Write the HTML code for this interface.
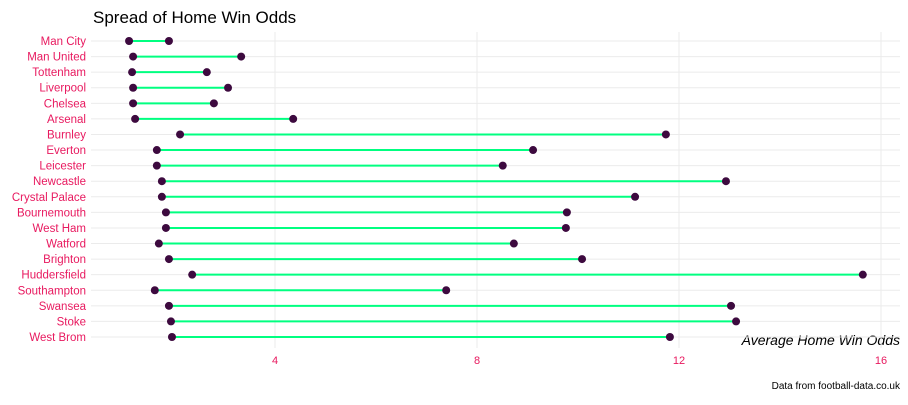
<!DOCTYPE html>
<html><head><meta charset="utf-8"><style>
body{margin:0;background:#fff;font-family:"Liberation Sans",sans-serif;}
</style></head><body>
<svg id="c" width="908" height="400">
<text x="93" y="23" font-size="17" fill="#000">Spread of Home Win Odds</text>
<text x="900" y="345" font-size="14" font-style="italic" text-anchor="end" fill="#000">Average Home Win Odds</text>
<text x="900" y="389" font-size="10" text-anchor="end" fill="#000">Data from football-data.co.uk</text>
<g id="g"></g>
</svg>
<script>
const teams=["Man City","Man United","Tottenham","Liverpool","Chelsea","Arsenal","Burnley","Everton","Leicester","Newcastle","Crystal Palace","Bournemouth","West Ham","Watford","Brighton","Huddersfield","Southampton","Swansea","Stoke","West Brom"];
const minOdds=[1.11,1.19,1.17,1.19,1.19,1.23,2.12,1.66,1.66,1.76,1.76,1.84,1.84,1.70,1.90,2.36,1.62,1.90,1.94,1.96];
const maxOdds=[1.90,3.33,2.65,3.07,2.79,4.36,11.74,9.11,8.51,12.93,11.13,9.78,9.76,8.73,10.08,15.64,7.39,13.03,13.13,11.82];
const ticks=[4,8,12,16];
const NS="http://www.w3.org/2000/svg";
const g=document.getElementById('g');
const x=v=>73+v*50.5;
const y=i=>41+i*(296/19);
function mk(t,a){const e=document.createElementNS(NS,t);for(const k in a)e.setAttribute(k,a[k]);g.appendChild(e);return e;}
ticks.forEach(t=>{
 const l=mk('line',{x1:x(t),x2:x(t),y1:32,y2:348,stroke:'#ebebeb','stroke-width':1});
 
 
 const tx=mk('text',{x:x(t),y:364,'font-size':11,fill:'#e8195f','text-anchor':'middle'});
 tx.textContent=t;
 
 
});
teams.forEach((n,i)=>{
 const gl=mk('line',{x1:91,x2:900,y1:y(i),y2:y(i),stroke:'#ebebeb','stroke-width':1});
 
 
 const lb=mk('text',{x:86,y:y(i)+4,'font-size':11.5,fill:'#e8195f','text-anchor':'end'});
 lb.textContent=n;
 
 
 const s=mk('line',{x1:x(minOdds[i]),x2:x(maxOdds[i]),y1:y(i),y2:y(i),stroke:'#00ff80','stroke-width':2});
 
 
 [minOdds[i],maxOdds[i]].forEach(v=>{
  const c=mk('circle',{cx:x(v),cy:y(i),r:4,fill:'#3d0a3f'});
  
  
 });
});
</script>
</body></html>
